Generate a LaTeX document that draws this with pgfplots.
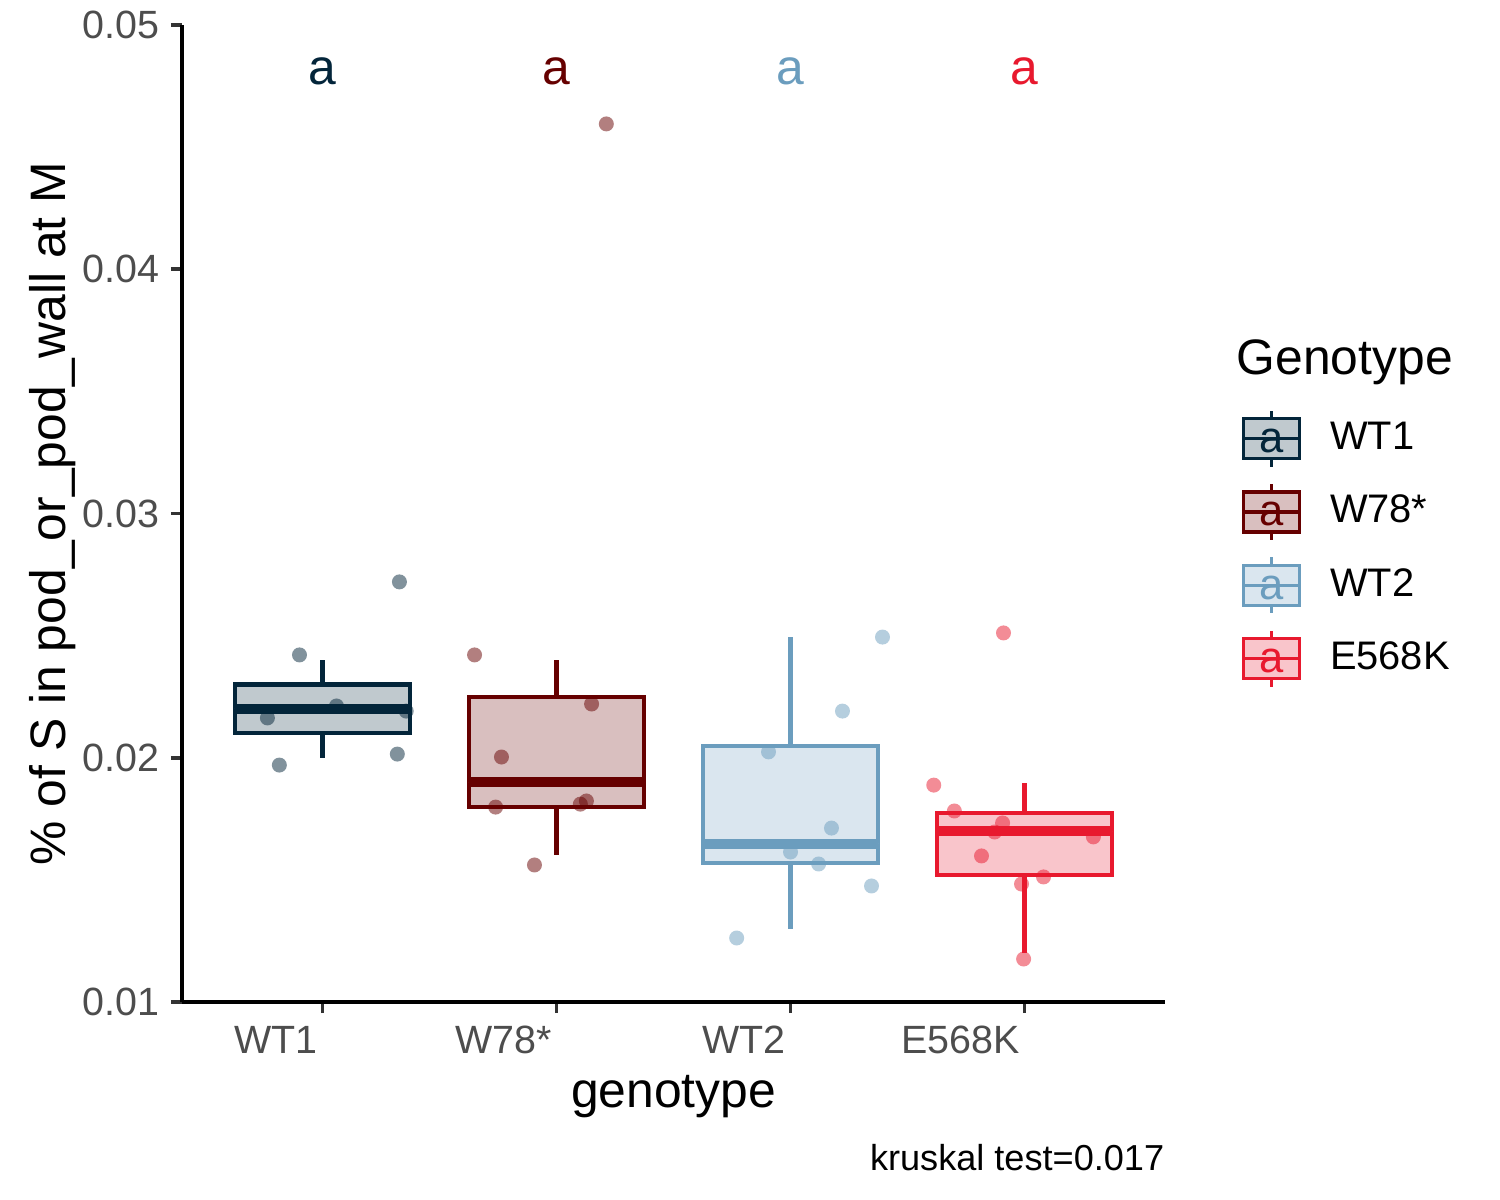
\documentclass[border=0pt]{standalone}
\usepackage{fontspec}
\setmainfont{Liberation Sans}
\usepackage{pgfplots}
\pgfplotsset{compat=1.18}
\usepgfplotslibrary{statistics}
\definecolor{c1}{HTML}{03253A}
\definecolor{c2}{HTML}{660000}
\definecolor{c3}{HTML}{6B9DBE}
\definecolor{c4}{HTML}{E8192E}
\definecolor{tickgray}{HTML}{4D4D4D}
\newcommand{\keyimg}[1]{%
  \addlegendimage{legend image code/.code={
    \draw[#1, fill=#1!25, line width=0.8bp] (0bp,-4.8bp) rectangle (13.44bp,4.8bp);
    \draw[#1, line width=0.8bp] (0bp,0bp) -- (13.44bp,0bp);
    \draw[#1, line width=0.8bp] (6.72bp,4.8bp) -- (6.72bp,6.72bp);
    \draw[#1, line width=0.8bp] (6.72bp,-4.8bp) -- (6.72bp,-6.72bp);
    \node[text=#1, inner sep=0pt, anchor=center, font=\fontsize{10.5}{12}\selectfont] at (6.72bp,-1.3bp) {a};
  }}}
\pgfplotsset{
  boxplot/every box/.style={/tikz/line width=1bp},
  boxplot/every whisker/.style={/tikz/line width=1bp},
  boxplot/every median/.style={/tikz/line width=2.3bp},
  mybox/.style={forget plot, draw=#1, fill=#1!25, /tikz/line width=1bp},
  mypts/.style={forget plot, only marks, mark=*, mark size=1.8bp, color=#1,
    mark options={draw opacity=0, fill=#1, fill opacity=0.5}},
}
\begin{document}
\begin{tikzpicture}
\useasboundingbox (0,0) rectangle (360bp,288bp);
\begin{axis}[
  at={(43.68bp,47.52bp)}, anchor=south west,
  scale only axis, width=235.92bp, height=234.48bp,
  xmin=0.4, xmax=4.6, ymin=0.01, ymax=0.05,
  axis x line*=bottom, axis y line*=left,
  axis line style={-, line width=0.85bp, black},
  xtick={1,2,3,4}, xticklabels={WT1,W78*,WT2,E568K},
  ytick={0.01,0.02,0.03,0.04,0.05}, yticklabels={0.01,0.02,0.03,0.04,0.05},
  tick align=outside, major tick length=2.64bp,
  tick style={line width=0.85bp, color=black!80},
  xticklabel style={anchor=north east, inner sep=0pt, xshift=-1.0bp, yshift=-2.9bp, text=tickgray, font=\fontsize{9.5}{11}\selectfont},
  yticklabel style={anchor=east, inner sep=0pt, xshift=-2.6bp, text=tickgray, font=\fontsize{9.5}{11}\selectfont},
  clip=false,
  every axis plot/.append style={line width=1bp},
  legend style={at={(1.0783,0.607)}, anchor=north west, draw=none, fill=none,
    inner sep=0pt, outer sep=0pt, row sep=3.36bp,
    font=\fontsize{9.6}{11}\selectfont, nodes={inner sep=0pt},
    /tikz/every odd column/.append style={column sep=6.9bp}},
  legend cell align=left,
  boxplot/draw direction=y,
]
\keyimg{c1}\addlegendentry{WT1}
\keyimg{c2}\addlegendentry{W78*}
\keyimg{c3}\addlegendentry{WT2}
\keyimg{c4}\addlegendentry{E568K}

\addplot[mybox=c1, boxplot prepared={lower whisker=0.0200, lower quartile=0.0210, median=0.0220, upper quartile=0.0230, upper whisker=0.0240, draw position=1, box extend=0.75, whisker extend=0}] coordinates {};
\addplot[mybox=c2, boxplot prepared={lower whisker=0.0160, lower quartile=0.0180, median=0.0190, upper quartile=0.02249, upper whisker=0.0240, draw position=2, box extend=0.75, whisker extend=0}] coordinates {};
\addplot[mybox=c3, boxplot prepared={lower whisker=0.0130, lower quartile=0.01569, median=0.01647, upper quartile=0.02048, upper whisker=0.02494, draw position=3, box extend=0.75, whisker extend=0}] coordinates {};
\addplot[mybox=c4, boxplot prepared={lower whisker=0.0120, lower quartile=0.0152, median=0.0170, upper quartile=0.01774, upper whisker=0.01897, draw position=4, box extend=0.75, whisker extend=0}] coordinates {};

\addplot[mypts=c1] coordinates {
(0.765,0.02163) (0.816,0.0197) (0.902,0.02421) (1.06,0.02212) (1.329,0.0272) (1.32,0.02015) (1.358,0.02191)};
\addplot[mypts=c2] coordinates {
(1.65,0.02421) (1.765,0.02003) (1.74,0.01798) (2.15,0.0222) (2.128,0.01823) (2.102,0.0181) (1.906,0.01561) (2.213,0.04595)};
\addplot[mypts=c3] coordinates {
(3.393,0.02494) (3.222,0.02191) (2.906,0.02024) (3.175,0.01712) (3.0,0.01614) (3.12,0.01565) (3.346,0.01475) (2.77,0.01262)};
\addplot[mypts=c4] coordinates {
(3.91,0.02511) (3.612,0.01888) (3.70,0.01782) (3.906,0.01733) (3.872,0.01696) (4.294,0.01676) (3.816,0.01598) (4.081,0.01512) (3.987,0.01483) (3.996,0.01176)};

\node[anchor=base, inner sep=0pt, text=c1, font=\fontsize{12}{14}\selectfont] at (axis cs:1,0.04755) {a};
\node[anchor=base, inner sep=0pt, text=c2, font=\fontsize{12}{14}\selectfont] at (axis cs:2,0.04755) {a};
\node[anchor=base, inner sep=0pt, text=c3, font=\fontsize{12}{14}\selectfont] at (axis cs:3,0.04755) {a};
\node[anchor=base, inner sep=0pt, text=c4, font=\fontsize{12}{14}\selectfont] at (axis cs:4,0.04755) {a};
\end{axis}
\node[anchor=base, inner sep=0pt, font=\fontsize{12}{14}\selectfont] at (161.64bp,22.32bp) {genotype};
\node[anchor=base, inner sep=0pt, rotate=90, font=\fontsize{12}{14}\selectfont] at (15.6bp,164.76bp) {\% of S in pod\_or\_pod\_wall at M};
\node[anchor=base west, inner sep=0pt, font=\fontsize{12}{14}\selectfont] at (296.64bp,198bp) {Genotype};
\node[anchor=base east, inner sep=0pt, font=\fontsize{8.7}{10}\selectfont] at (279.6bp,7.2bp) {kruskal test=0.017};
\end{tikzpicture}
\end{document}
